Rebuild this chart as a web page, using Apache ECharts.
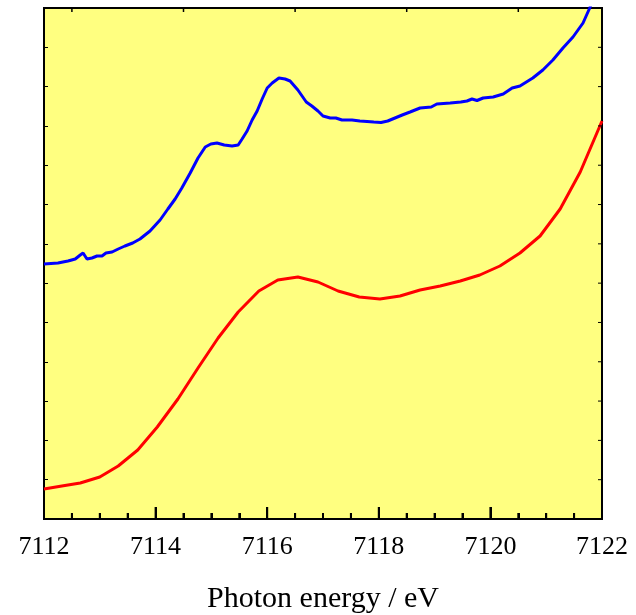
<!DOCTYPE html>
<html>
<head>
<meta charset="utf-8">
<script src="https://cdn.jsdelivr.net/npm/echarts@6/dist/echarts.min.js"></script>
<style>
  html, body { margin: 0; padding: 0; background: #fff; }
  #chart { width: 636px; height: 615px; }
</style>
</head>
<body>
<div id="chart"></div>
<script>
  // photon energy (eV) and normalized absorption (arbitrary units)
  var blueEnergy = [7112.00, 7112.25, 7112.43, 7112.56, 7112.65, 7112.70, 7112.77, 7112.86, 7112.95, 7113.04,
    7113.11, 7113.22, 7113.33, 7113.45, 7113.59, 7113.72, 7113.90, 7114.08, 7114.22, 7114.35,
    7114.47, 7114.62, 7114.76, 7114.89, 7114.99, 7115.10, 7115.23, 7115.37, 7115.48, 7115.55,
    7115.64, 7115.73, 7115.82, 7115.91, 7116.00, 7116.09, 7116.21, 7116.32, 7116.41, 7116.55,
    7116.70, 7116.80, 7116.91, 7117.00, 7117.13, 7117.23, 7117.34, 7117.52, 7117.66, 7117.79,
    7117.91, 7118.04, 7118.16, 7118.29, 7118.42, 7118.56, 7118.74, 7118.94, 7119.04, 7119.28,
    7119.47, 7119.58, 7119.67, 7119.76, 7119.87, 7120.05, 7120.23, 7120.39, 7120.53, 7120.76,
    7120.94, 7121.12, 7121.30, 7121.48, 7121.66, 7121.78, 7121.85]
  var blueAbs = [255, 256, 258, 260, 264, 266, 260, 261, 263, 263,
    266, 267, 270, 273, 276, 280, 288, 299, 310, 320,
    331, 346, 361, 372, 375, 376, 374, 373, 374, 380,
    388, 399, 408, 420, 431, 436, 441, 440, 438, 429,
    417, 413, 408, 403, 401, 401, 399, 399, 398, 397.5,
    397, 396.5, 398, 401, 404, 407, 411, 412, 415, 416,
    417, 418, 420, 418.5, 421, 422, 425, 431, 433, 441,
    449, 459, 471, 482, 496, 511, 522]

  var redEnergy = [7112.00, 7112.32, 7112.65, 7113.00, 7113.33, 7113.68, 7114.03, 7114.40, 7114.76, 7115.12,
    7115.48, 7115.85, 7116.19, 7116.55, 7116.91, 7117.27, 7117.65, 7118.02, 7118.38, 7118.74,
    7119.10, 7119.46, 7119.81, 7120.17, 7120.53, 7120.89, 7121.25, 7121.61, 7122.00]
  var redAbs = [30, 33, 36, 42, 53, 69, 92, 120, 151, 181,
    207, 228, 239, 242, 237, 228, 222, 220, 223, 229,
    233, 238, 244, 253, 266, 283, 310, 347, 398]

  var yTop = 511
  var yStep = yTop / 13
  // tick marks on the frame
  var bottomMajor = [7112, 7114, 7116, 7118, 7120, 7122]
  var bottomMinor = [7112.5, 7113, 7113.5, 7114.5, 7115, 7115.5, 7116.5, 7117, 7117.5,
    7118.5, 7119, 7119.5, 7120.5, 7121, 7121.5]
  var topTicks = [7112.5, 7114.5, 7116.5, 7118.5, 7120.5]
  var rightTicks = [1, 2, 3, 4, 5, 6, 7, 8, 9, 10, 11, 12].map(function (k) { return k * yStep })

  function pairs(xs, ys) {
    return xs.map(function (x, i) { return [x, ys[i]] })
  }

  var chart = echarts.init(document.getElementById('chart'))
  var serif = 'Liberation Serif'

  var option = {
    animation: false,
    grid: {
      left: 44, right: 34, top: 8, bottom: 96,
      outerBoundsMode: 'none',
      show: true, backgroundColor: '#ffff80', borderColor: '#000', borderWidth: 2
    },
    xAxis: {
      type: 'value', min: 7112, max: 7122, interval: 2,
      name: 'Photon energy / eV', nameLocation: 'middle', nameGap: 65,
      nameTextStyle: { fontFamily: serif, fontSize: 30, color: '#000' },
      axisLine: { onZero: false, lineStyle: { color: '#000', width: 2 } },
      axisTick: { show: true, inside: true, length: 12, lineStyle: { color: '#000', width: 2 } },
      minorTick: { show: true, splitNumber: 4, length: 6, lineStyle: { color: '#000', width: 2 } },
      axisLabel: {
        fontFamily: serif, fontSize: 26, color: '#000', margin: 15,
        formatter: function (v) { return String(v) }
      },
      splitLine: { show: false }
    },
    yAxis: {
      type: 'value', min: 0, max: yTop, interval: yStep,
      axisLine: { onZero: false, lineStyle: { color: '#000', width: 2 } },
      axisTick: { show: true, inside: true, length: 4, lineStyle: { color: '#000', width: 1 } },
      axisLabel: { show: false },
      splitLine: { show: false }
    },
    series: [
      {
        type: 'line', data: pairs(blueEnergy, blueAbs),
        showSymbol: false, clip: true,
        lineStyle: { color: '#0000ff', width: 3 }
      },
      {
        type: 'line', data: pairs(redEnergy, redAbs),
        showSymbol: false, clip: true,
        lineStyle: { color: '#ff0000', width: 3 }
      }
    ]
  }

  chart.setOption(option)

  // frame ticks placed through the chart's own scales
  function tick(value, dx, dy, width) {
    var p = chart.convertToPixel({ gridIndex: 0 }, value)
    return {
      type: 'line', z: 100, silent: true,
      shape: { x1: p[0], y1: p[1], x2: p[0] + dx, y2: p[1] + dy },
      style: { stroke: '#000', lineWidth: width }
    }
  }
  var marks = []
  bottomMajor.forEach(function (t) { marks.push(tick([t, 0], 0, -12, 2)) })
  bottomMinor.forEach(function (t) { marks.push(tick([t, 0], 0, -6, 2)) })
  topTicks.forEach(function (t) { marks.push(tick([t, yTop], 0, 4, 1.5)) })
  rightTicks.forEach(function (v) { marks.push(tick([7122, v], -4, 0, 1)) })
  chart.setOption({ graphic: { elements: marks } })
</script>
</body>
</html>
